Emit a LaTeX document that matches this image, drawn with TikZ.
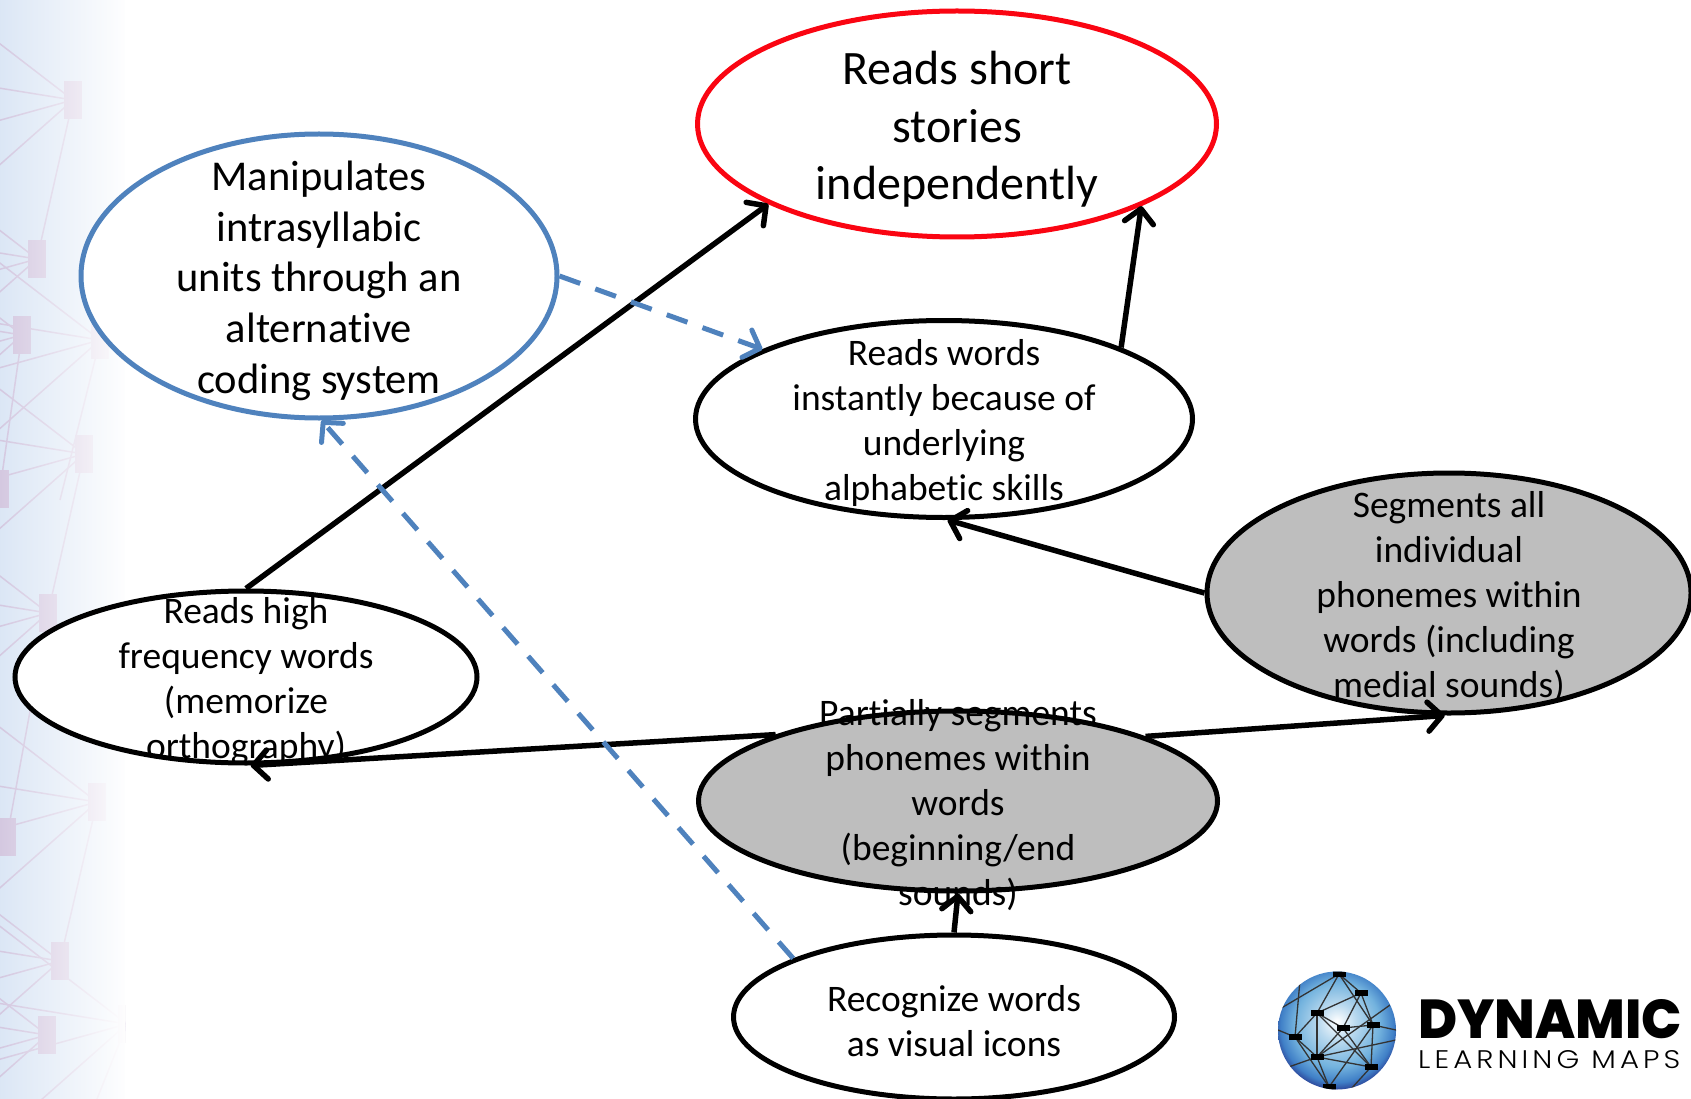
\documentclass[tikz,border=0pt]{standalone}
\usepackage{fontspec}
\setmainfont[Ligatures=NoCommon]{Carlito}
\newfontfamily\LogoBold[BoldFont={Poppins ExtraBold}]{Poppins}
\newfontfamily\LogoThin[LetterSpace=14]{Poppins Light}
\usetikzlibrary{arrows.meta,shapes.geometric,fadings}
\definecolor{MapRed}{rgb}{0.98,0.02,0.07}
\definecolor{MapBlue}{rgb}{0.31,0.51,0.74}
\definecolor{MapGray}{rgb}{0.745,0.745,0.745}
\definecolor{BackBlue}{rgb}{0.85,0.90,0.96}
\definecolor{BackMauve}{rgb}{0.82,0.77,0.87}
\definecolor{GlobeLight}{rgb}{0.45,0.70,0.87}
\definecolor{GlobeMid}{rgb}{0.25,0.50,0.78}
\definecolor{GlobeDark}{rgb}{0.17,0.27,0.60}
\pgfdeclareradialshading{GlobeShade}{\pgfpoint{0bp}{4bp}}{color(0bp)=(white);color(8bp)=(GlobeLight!50!white);color(18bp)=(GlobeLight);color(24bp)=(GlobeMid);color(27bp)=(GlobeDark);color(50bp)=(GlobeDark)}
\tikzfading[name=FadeBack,left color=transparent!100,right color=transparent!0]
\newcommand{\TopGap}{\rule{0pt}{0.92em}}
\tikzset{
  GoalNode/.style={ellipse,draw,line width=5pt,fill=white,align=center,inner sep=-150pt,font=\fontsize{37.5}{45}\selectfont},
  LinkArrow/.style={line width=5.5pt,-{Straight Barb[length=14pt,width=29pt,line width=5.5pt,round]}},
  AltArrow/.style={line width=5pt,color=MapBlue,-{Straight Barb[length=14pt,width=29pt,line width=5pt,round]},dash pattern=on 22pt off 16pt},
}
\begin{document}
\begin{tikzpicture}[x=1pt,y=-1pt]
\useasboundingbox (0,0) rectangle (1691,1099);

% Background on the left.
\begin{scope}
\clip (0,0) rectangle (125,1099);
\fill[BackBlue] (0,0) rectangle (125,1099);
\foreach \sx/\sy in {73/100,37/259,22/335,84/454,0/489,48/613,97/802,7/837,60/961,47/1035,127/1024,100/340}{
  \foreach \dy in {-100,-21,36,115}
    \draw[BackMauve,line width=1.5pt] (\sx,\sy) -- (\sx-130,\sy+\dy);
  \fill[BackMauve] (\sx-9,\sy-19) rectangle (\sx+9,\sy+19);
}
\foreach \sx/\sy/\ex/\ey in {73/100/37/259,84/454/48/613,97/802/60/961,22/335/0/489,127/1024/97/1099,100/340/60/500,48/613/7/837}
  \draw[BackMauve,line width=1.5pt] (\sx,\sy) -- (\ex,\ey);
\fill[white,path fading=FadeBack] (-10,-20) rectangle (128,1119);
\end{scope}

% The nodes.
\node[GoalNode,draw=MapRed,minimum width=519pt,minimum height=226pt,font=\fontsize{48}{57.6}\selectfont] (stories) at (957,124) {\TopGap Reads short\\stories\\independently};
\node[GoalNode,draw=MapBlue,minimum width=476pt,minimum height=284pt,font=\fontsize{42.5}{50.7}\selectfont] (coding) at (319,276) {\TopGap Manipulates\\intrasyllabic\\units through an\\alternative\\coding system};
\node[GoalNode,minimum width=497pt,minimum height=197pt] (instant) at (944,419) {\TopGap Reads words\\instantly because of\\underlying\\alphabetic skills};
\node[GoalNode,fill=MapGray,minimum width=484pt,minimum height=240pt] (allphon) at (1449,593) {\TopGap Segments all\\individual\\phonemes within\\words (including\\medial sounds)};
\node[GoalNode,minimum width=462pt,minimum height=172pt] (highfreq) at (246,677) {\TopGap Reads high\\frequency words\\(memorize\\orthography)};
\node[GoalNode,fill=MapGray,minimum width=519pt,minimum height=180pt] (partial) at (958,801) {\TopGap Partially segments\\phonemes within\\words\\(beginning/end\\sounds)};
\node[GoalNode,minimum width=441pt,minimum height=164pt] (icons) at (954,1017) {\TopGap Recognize words\\as visual icons};

% The links.
\draw[LinkArrow] (highfreq.north) -- (stories.203.6);
\draw[LinkArrow] (instant.22) -- (stories.-24.6);
\draw[LinkArrow] (allphon.west) -- (instant.272);
\draw[LinkArrow] (partial.160.7) -- (highfreq.273);
\draw[LinkArrow] (partial.19.7) -- (allphon.268);
\draw[LinkArrow] (icons.north) -- (partial.south);
\draw[AltArrow] (coding.east) -- (instant.159);
\draw[AltArrow] (icons.160) -- (coding.271);

% The logo.
\shade[shading=GlobeShade] (1337,1030.5) circle (59pt);
\begin{scope}
\clip (1337,1030.5) circle (59pt);
\foreach \ax/\ay/\bx/\by in {1339/974/1361/993,1339/974/1317/1013,1339/974/1278/1010,1361/993/1317/1013,1361/993/1373/1025,1361/993/1343/1028,1317/1013/1343/1028,1317/1013/1317/1057,1317/1013/1371/1067,1317/1013/1295/1037,1343/1028/1373/1025,1343/1028/1317/1057,1343/1028/1371/1067,1373/1025/1396/1030,1373/1025/1371/1067,1373/1025/1329/1087,1295/1037/1317/1057,1295/1037/1278/1030,1295/1037/1329/1087,1317/1057/1371/1067,1317/1057/1329/1087,1317/1057/1396/1040,1317/1057/1390/1005,1371/1067/1350/1090,1339/974/1373/1025,1295/1037/1300/980,1317/1057/1280/1070}
  \draw[black!80,line width=1.3pt] (\ax,\ay) -- (\bx,\by);
\foreach \sx/\sy in {1339/974,1361/993,1317/1013,1343/1028,1373/1025,1295/1037,1317/1057,1371/1067,1329/1087}
  \fill[black] (\sx-6.5,\sy-3) rectangle (\sx+6.5,\sy+3);
\end{scope}
\node[inner sep=0pt,anchor=base west] (logotop) at (1418,1038) {\resizebox{264pt}{39pt}{\LogoBold\bfseries DYNAMIC}};
\node[inner sep=0pt,anchor=base west] (logolow) at (1418,1068) {\resizebox{262pt}{18pt}{\LogoThin LEARNING\ MAPS}};
\end{tikzpicture}
\end{document}
